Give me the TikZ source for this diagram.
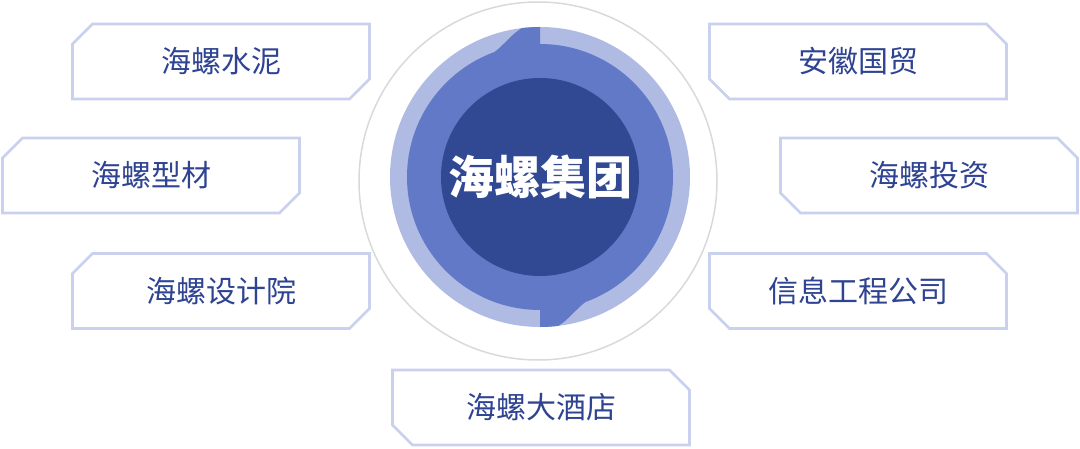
\documentclass[tikz,border=0pt]{standalone}
\usepackage{fontspec}
\usepackage{tikz}
\newfontfamily\cjk{Noto Sans CJK SC}
\definecolor{ringlight}{HTML}{AFBBE3}
\definecolor{ringmid}{HTML}{6279C7}
\definecolor{ringdark}{HTML}{314993}
\definecolor{framecol}{HTML}{C9D1EF}
\definecolor{textcol}{HTML}{2E4391}

\begin{document}
\begin{tikzpicture}[x=1pt,y=1pt]
    \tikzstyle{unit}=[rectangle,minimum width=297pt,minimum height=75pt,inner sep=0pt,outer sep=0pt,text=textcol,font=\cjk\fontsize{30}{36}\selectfont]
    \tikzstyle{frame}=[draw=framecol,line width=2.8pt]
    \useasboundingbox (0,0) rectangle (1080,449);

    \draw[color=black!15,line width=1.5pt] (538,268) circle[radius=179];

    \begin{scope}[shift={(540,272)}]
    \fill[ringlight] (0,0) circle[radius=150];
    \fill[ringmid] (0,0) circle[radius=133];
    \fill[ringmid] (90:150) arc[start angle=90,end angle=97,radius=150] .. controls (101:146) and (106:136) .. (110:133) -- (0,0) -- cycle;
    \fill[ringmid] (270:150) arc[start angle=270,end angle=277,radius=150] .. controls (281:146) and (286:136) .. (290:133) -- (0,0) -- cycle;
    \node (hl)[circle,fill=ringdark,minimum size=198pt,inner sep=0pt,text=white,font=\cjk\bfseries\fontsize{46}{52}\selectfont] at (0,0) {海螺集团};
    \end{scope}

    \node (sn)[unit] at (221,387.5) {海螺水泥};
    \node (xc)[unit] at (151,273.5) {海螺型材};
    \node (sj)[unit] at (221,158) {海螺设计院};
    \node (jd)[unit] at (541,41.5) {海螺大酒店};
    \node (gm)[unit] at (858,387.5) {安徽国贸};
    \node (tz)[unit] at (929,273.5) {海螺投资};
    \node (xx)[unit] at (858,158) {信息工程公司};

    \foreach \u in {sn,xc,sj}
        \draw[frame] ([xshift=20pt]\u.north west) -- (\u.north east) -- ([yshift=20pt]\u.south east) -- ([xshift=-20pt]\u.south east) -- (\u.south west) -- ([yshift=-20pt]\u.north west) -- cycle;
    \foreach \u in {jd,gm,tz,xx}
        \draw[frame] (\u.north west) -- ([xshift=-20pt]\u.north east) -- ([yshift=-20pt]\u.north east) -- (\u.south east) -- ([xshift=20pt]\u.south west) -- ([yshift=20pt]\u.south west) -- cycle;
\end{tikzpicture}
\end{document}
